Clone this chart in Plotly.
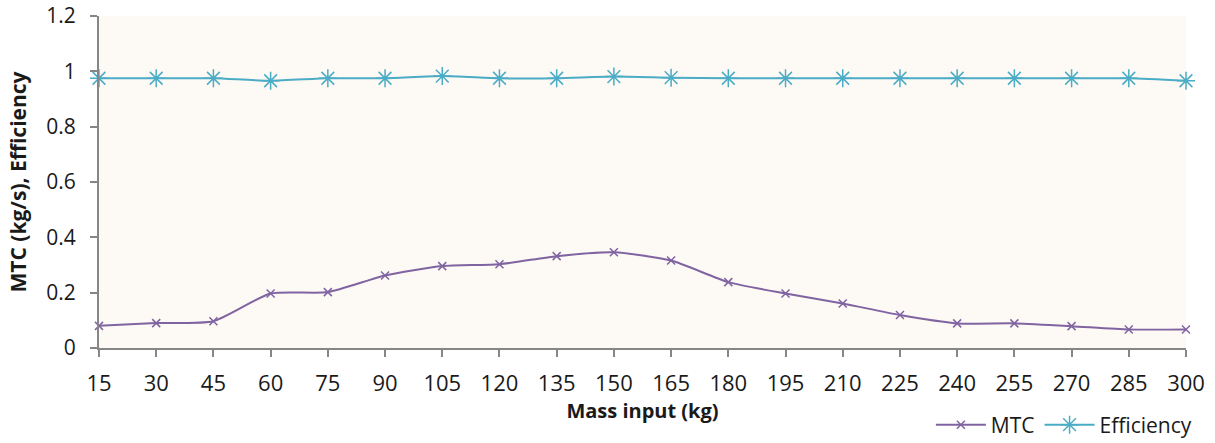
import plotly.graph_objects as go

mass_input = ["15", "30", "45", "60", "75", "90", "105", "120", "135", "150",
              "165", "180", "195", "210", "225", "240", "255", "270", "285", "300"]
mtc = [0.080, 0.090, 0.097, 0.197, 0.202, 0.262, 0.296, 0.303, 0.332, 0.346,
       0.316, 0.238, 0.197, 0.161, 0.119, 0.089, 0.089, 0.079, 0.067, 0.067]
efficiency = [0.975, 0.975, 0.975, 0.966, 0.975, 0.975, 0.983, 0.975, 0.975, 0.981,
              0.977, 0.975, 0.975, 0.975, 0.975, 0.975, 0.975, 0.975, 0.975, 0.966]
y_ticks = [0, 0.2, 0.4, 0.6, 0.8, 1, 1.2]
y_tick_labels = ["0", "0.2", "0.4", "0.6", "0.8", "1", "1.2"]

FONT = "Open Sans"
TXT = "#1a1a1a"

fig = go.Figure()
fig.add_trace(go.Scatter(
    x=mass_input, y=mtc, name="MTC", mode="lines+markers",
    line=dict(color="#8064A2", width=2, shape="spline", smoothing=0.6),
    marker=dict(symbol="x-thin-open", size=8, line=dict(color="#8064A2", width=1.5)),
    cliponaxis=False,
))
fig.add_trace(go.Scatter(
    x=mass_input, y=efficiency, name="Efficiency", mode="lines+markers",
    line=dict(color="#4BACC6", width=2, shape="spline", smoothing=0.6),
    marker=dict(symbol="asterisk-open", size=15, line=dict(color="#4BACC6", width=1.5)),
    cliponaxis=False,
))

fig.update_layout(
    width=1215, height=443,
    margin=dict(l=99, r=29, t=16, b=95, autoexpand=False),
    paper_bgcolor="white",
    plot_bgcolor="#FDF9F4",
    font=dict(family=FONT, color=TXT, size=21),
    showlegend=True,
    legend=dict(orientation="h", x=1.01, xanchor="right", y=-0.232, yanchor="middle",
                font=dict(size=21, family=FONT, color=TXT), itemwidth=50,
                bgcolor="rgba(0,0,0,0)", tracegroupgap=0),
    xaxis=dict(
        type="category", range=[0, 19], automargin=False,
        showline=True, linecolor="#868686", linewidth=2,
        ticks="outside", ticklen=7, tickcolor="#868686", tickwidth=2,
        showgrid=False, zeroline=False, ticklabelstandoff=8,
        tickfont=dict(size=22, family=FONT, color=TXT),
        title=dict(text="<b>Mass input (kg)</b>", font=dict(size=20, family=FONT, color=TXT), standoff=6),
    ),
    yaxis=dict(
        range=[0, 1.2], tickmode="array", tickvals=y_ticks, ticktext=y_tick_labels,
        automargin=False, ticklabeloverflow="allow",
        showline=True, linecolor="#868686", linewidth=2,
        ticks="outside", ticklen=7, tickcolor="#868686", tickwidth=2,
        showgrid=False, zeroline=False, ticklabelstandoff=10,
        tickfont=dict(size=21, family=FONT, color=TXT),
        title=dict(text="<b>MTC (kg/s), Efficiency</b>", font=dict(size=21, family=FONT, color=TXT), standoff=14),
    ),
)

fig.write_html("out.html")
